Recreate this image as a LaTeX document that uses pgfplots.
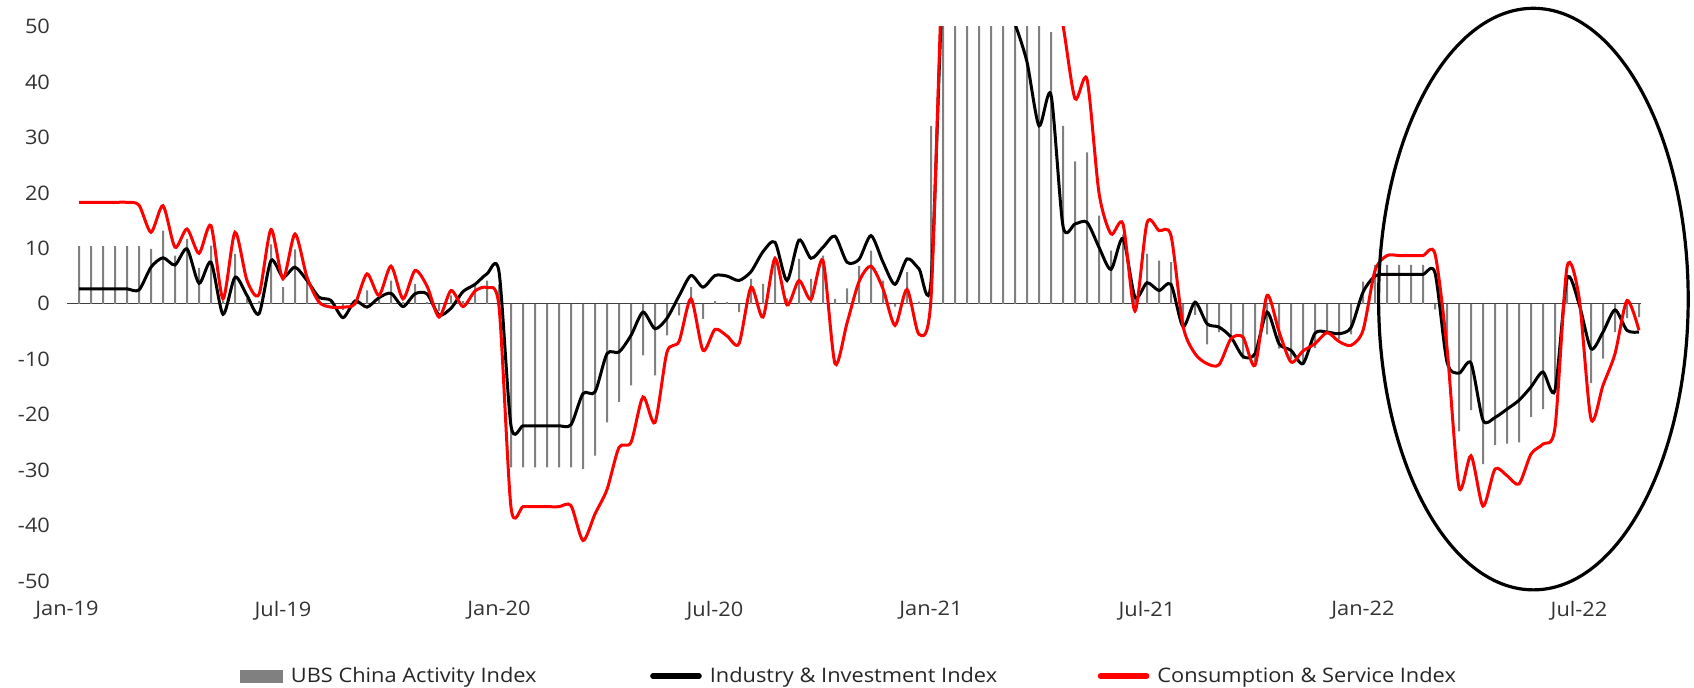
\documentclass[border=0pt]{standalone}
\usepackage{pgfplots}
\pgfplotsset{compat=1.18}
\usepackage{pgfplotstable}
\usepackage{fontspec}
\setmainfont{Open Sans}[FakeStretch=1.09]

% k = 10-day step (k=-1 is Jan-19); act = UBS China Activity Index,
% ind = Industry & Investment, con = Consumption & Service
\pgfplotstableread{
k act ind con
0 10.4 2.7 18.3
1 10.4 2.7 18.3
2 10.4 2.7 18.3
3 10.4 2.7 18.3
4 10.4 2.7 18.3
5 10.4 2.5 17.8
6 9.9 6.6 12.9
7 13.2 8.3 17.7
8 8.7 7.0 10.2
9 11.7 9.9 13.5
10 6.5 3.7 9.1
11 10.5 7.5 14.1
12 0.5 -1.9 0.9
13 9.0 4.8 12.9
14 1.0 1.5 4.2
15 0.5 -1.8 1.7
16 10.7 7.8 13.4
17 3.0 4.8 4.5
18 9.8 6.6 12.6
19 5.0 4.2 4.8
20 1.0 1.2 0.3
21 0.5 0.6 -0.6
22 -1.1 -2.5 -0.6
23 0.3 0.5 0.0
24 2.4 -0.6 5.4
25 1.5 1.1 1.5
26 4.2 1.9 6.8
27 0.3 -0.5 0.9
28 3.6 1.8 6.0
29 0.3 1.8 3.2
30 -1.3 -2.0 -2.4
31 1.5 -0.8 2.4
32 0.5 2.2 -0.5
33 3.2 3.5 2.3
34 4.2 5.4 2.9
35 3.5 5.8 -0.5
36 -29.5 -22.0 -36.7
37 -29.5 -22.0 -36.6
38 -29.5 -22.0 -36.6
39 -29.5 -22.0 -36.6
40 -29.5 -22.0 -36.6
41 -29.5 -21.8 -36.4
42 -29.8 -16.2 -42.7
43 -27.4 -15.9 -37.9
44 -21.4 -9.0 -33.5
45 -17.7 -8.7 -25.9
46 -14.7 -5.7 -25.0
47 -9.3 -1.5 -16.8
48 -12.9 -4.5 -21.4
49 -5.7 -2.6 -8.7
50 -2.1 1.4 -6.8
51 3.0 5.1 0.9
52 -2.7 3.0 -8.4
53 0.5 5.1 -4.6
54 0.3 5.0 -5.8
55 -1.5 4.2 -7.2
56 4.5 5.8 3.0
57 3.6 9.4 -2.4
58 8.5 11.1 8.2
59 1.0 4.2 -0.2
60 8.1 11.5 4.2
61 4.5 8.2 0.8
62 8.7 10.2 7.8
63 0.9 12.2 -10.8
64 2.8 7.5 -3.5
65 6.8 8.0 4.0
66 9.6 12.3 6.8
67 4.2 7.5 2.7
68 -0.5 3.5 -3.9
69 5.7 8.1 2.6
70 0.4 6.3 -5.5
71 32.1 3.9 1.0
72 60 58 62
73 65 62 68
74 70 64 70
75 68 63 70
76 66 60 69
77 64 56 68
78 62 50.5 67
79 60 43.6 66
80 58 32.1 64
81 49.0 37.7 60
82 32.1 14.0 50.2
83 25.7 14.4 37.0
84 27.3 14.7 40.5
85 15.9 10.2 20.0
86 9.6 6.2 12.6
87 12.5 11.8 14.4
88 1.5 1.2 -1.3
89 9.0 3.8 14.6
90 7.8 2.4 13.2
91 7.5 3.5 12.3
92 -4.6 -4.1 -4.0
93 -2.0 0.3 -9.0
94 -7.3 -3.6 -10.8
95 -5.1 -4.2 -11.0
96 -6.0 -6.0 -6.3
97 -10.0 -9.5 -6.0
98 -10.5 -9.0 -11.1
99 -5.5 -1.5 1.5
100 -8.1 -7.2 -5.0
101 -10.0 -8.4 -10.5
102 -10.5 -10.8 -8.5
103 -8.0 -5.3 -7.2
104 -5.5 -5.1 -5.2
105 -6.4 -5.4 -6.8
106 -5.5 -4.3 -7.5
107 4.0 2.1 -4.8
108 7.0 5.0 6.0
109 7.0 5.3 8.7
110 7.0 5.3 8.7
111 7.0 5.3 8.7
112 7.0 5.3 8.7
113 -1.0 5.6 9.0
114 -9.5 -10.5 -8.0
115 -23.0 -12.5 -33.1
116 -19.2 -10.7 -27.4
117 -28.9 -21.0 -36.5
118 -25.5 -20.5 -29.8
119 -25.2 -19.0 -31.0
120 -25.0 -17.4 -32.5
121 -20.4 -15.0 -27.1
122 -19.0 -12.3 -25.3
123 -16.1 -15.6 -22.3
124 4.0 4.5 6.6
125 1.0 0.0 1.2
126 -14.3 -8.1 -20.8
127 -9.9 -5.1 -14.7
128 -5.1 -1.1 -9.0
129 -2.6 -4.8 0.6
130 -2.4 -5.1 -4.8
}\ubsdata

\begin{document}
\begin{tikzpicture}
\begin{axis}[
  scale only axis, width=787.2pt, height=277.2pt,
  xmin=-1, xmax=130.2, ymin=-50, ymax=50,
  axis line style={draw=none},
  major tick length=0pt,
  xtick={-1,17,35,53,71,89,107,125},
  xticklabels={Jan-19,Jul-19,Jan-20,Jul-20,Jan-21,Jul-21,Jan-22,Jul-22},
  ytick={-50,-40,...,50},
  extra y ticks={0}, extra y tick labels={},
  extra y tick style={grid=major, major grid style={black!75, line width=0.6pt}},
  tick label style={font=\fontsize{10}{12}\selectfont, text=black!80},
  xticklabel style={yshift=-6.4pt},
  yticklabel style={xshift=-5pt},
  /pgf/number format/assume math mode=true,
  clip mode=individual,
  legend columns=3,
  legend style={draw=none, fill=none, at={(axis description cs:0.4973,-0.1715)}, anchor=center,
    font=\fontsize{10}{12}\selectfont, text=black!85,
    /tikz/every odd column/.append style={column sep=2pt},
    /tikz/column 2/.append style={column sep=54.8pt},
    /tikz/column 4/.append style={column sep=48.3pt}},
]
\addplot[ybar, bar width=1pt, fill=black!50, draw=none,
  legend image code/.code={\fill[black!50] (0pt,-3.25pt) rectangle (21.5pt,3.25pt);}]
  table[x=k, y=act] {\ubsdata};
\addlegendentry{UBS China Activity Index}
\addplot[black, line width=1.5pt, smooth, tension=0.45,
  legend image code/.code={\draw[black, line width=2.8pt, line cap=round] (0pt,0pt) -- (23pt,0pt);}]
  table[x=k, y=ind] {\ubsdata};
\addlegendentry{Industry \& Investment Index}
\addplot[red, line width=1.5pt, smooth, tension=0.45,
  legend image code/.code={\draw[red, line width=2.8pt, line cap=round] (0pt,0pt) -- (23pt,0pt);}]
  table[x=k, y=con] {\ubsdata};
\addlegendentry{Consumption \& Service Index}
\draw[black, line width=1.6pt] (axis cs:121.2,0.85) ellipse [x radius=12.9, y radius=52.45];
\end{axis}
\pgfresetboundingbox
\useasboundingbox (-33.5pt,-53pt) rectangle (813.5pt,290.5pt);
\end{tikzpicture}
\end{document}
